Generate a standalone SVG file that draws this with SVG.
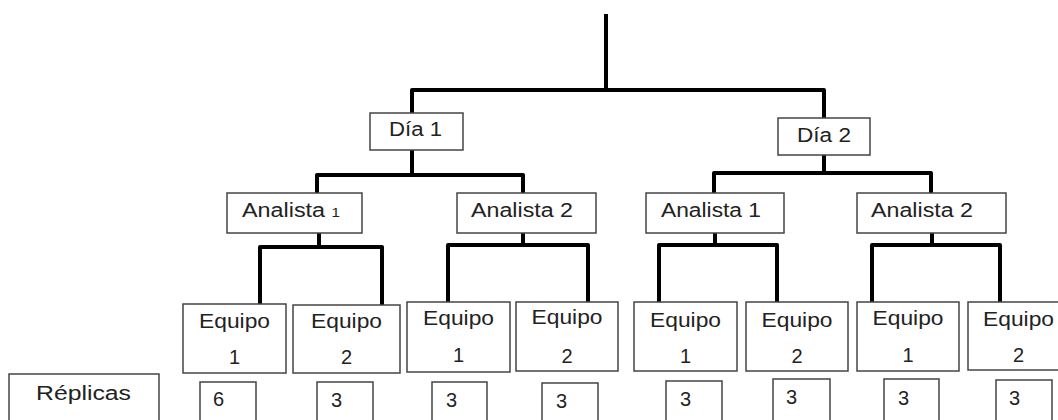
<svg xmlns="http://www.w3.org/2000/svg" width="1058" height="420" viewBox="0 0 1058 420">
  <style>
    .box { fill: #ffffff; stroke: #444444; stroke-width: 1.5; }
    .lbl { font-family: "Liberation Sans", Arial, sans-serif; font-size: 20px; fill: #222222; }
    .mid { text-anchor: middle; }
    .wire { fill: none; stroke: #000000; stroke-width: 4; stroke-linejoin: round; stroke-linecap: butt; }
  </style>
  <rect width="1058" height="420" fill="#ffffff"/>

  <!-- tree connectors -->
  <g id="connectors" class="wire">
    <path d="M606,14 V90"/>
    <path d="M412,113 V90 H824 V118"/>
    <path d="M412,150 V175"/>
    <path d="M317,193 V175 H523 V193"/>
    <path d="M824,155 V173"/>
    <path d="M714,193 V173 H931 V193"/>
    <path d="M319,233 V247"/>
    <path d="M260,305 V247 H382 V305"/>
    <path d="M523,233 V245"/>
    <path d="M448,302 V245 H588 V302"/>
    <path d="M715,233 V245"/>
    <path d="M659,302 V245 H777 V302"/>
    <path d="M932,233 V245"/>
    <path d="M872,302 V245 H1000 V302"/>
  </g>

  <!-- days -->
  <g id="dia1">
    <rect class="box" x="370" y="113" width="93" height="37"/>
    <text class="lbl" x="389" y="136" textLength="53" lengthAdjust="spacingAndGlyphs">Día 1</text>
  </g>
  <g id="dia2">
    <rect class="box" x="778" y="118" width="92" height="37"/>
    <text class="lbl" x="797" y="142" textLength="54" lengthAdjust="spacingAndGlyphs">Día 2</text>
  </g>

  <!-- analysts -->
  <g id="d1-analista1">
    <rect class="box" x="227" y="193" width="135" height="40"/>
    <text class="lbl" x="242" y="217" textLength="98" lengthAdjust="spacingAndGlyphs">Analista <tspan font-size="13">1</tspan></text>
  </g>
  <g id="d1-analista2">
    <rect class="box" x="457" y="193" width="139" height="40"/>
    <text class="lbl" x="471" y="217" textLength="102" lengthAdjust="spacingAndGlyphs">Analista 2</text>
  </g>
  <g id="d2-analista1">
    <rect class="box" x="646" y="193" width="138" height="40"/>
    <text class="lbl" x="661" y="217" textLength="100" lengthAdjust="spacingAndGlyphs">Analista 1</text>
  </g>
  <g id="d2-analista2">
    <rect class="box" x="857" y="193" width="149" height="40"/>
    <text class="lbl" x="871" y="217" textLength="102" lengthAdjust="spacingAndGlyphs">Analista 2</text>
  </g>

  <!-- equipment -->
  <g id="equipo-1">
    <rect class="box" x="183" y="304" width="103" height="69"/>
    <text class="lbl mid" x="234.5" y="328" textLength="71" lengthAdjust="spacingAndGlyphs">Equipo</text>
    <text class="lbl mid" x="234.5" y="364">1</text>
  </g>
  <g id="equipo-2">
    <rect class="box" x="293" y="305" width="107" height="68"/>
    <text class="lbl mid" x="346.5" y="328" textLength="71" lengthAdjust="spacingAndGlyphs">Equipo</text>
    <text class="lbl mid" x="346.5" y="364">2</text>
  </g>
  <g id="equipo-3">
    <rect class="box" x="407" y="302" width="103" height="70"/>
    <text class="lbl mid" x="458.5" y="325" textLength="71" lengthAdjust="spacingAndGlyphs">Equipo</text>
    <text class="lbl mid" x="458.5" y="362">1</text>
  </g>
  <g id="equipo-4">
    <rect class="box" x="516" y="302" width="102" height="69"/>
    <text class="lbl mid" x="567" y="324" textLength="71" lengthAdjust="spacingAndGlyphs">Equipo</text>
    <text class="lbl mid" x="567" y="363">2</text>
  </g>
  <g id="equipo-5">
    <rect class="box" x="634" y="302" width="103" height="69"/>
    <text class="lbl mid" x="685.5" y="327" textLength="71" lengthAdjust="spacingAndGlyphs">Equipo</text>
    <text class="lbl mid" x="685.5" y="363">1</text>
  </g>
  <g id="equipo-6">
    <rect class="box" x="746" y="302" width="102" height="69"/>
    <text class="lbl mid" x="797" y="327" textLength="71" lengthAdjust="spacingAndGlyphs">Equipo</text>
    <text class="lbl mid" x="797" y="363">2</text>
  </g>
  <g id="equipo-7">
    <rect class="box" x="857" y="302" width="102" height="69"/>
    <text class="lbl mid" x="908" y="325" textLength="71" lengthAdjust="spacingAndGlyphs">Equipo</text>
    <text class="lbl mid" x="908" y="362">1</text>
  </g>
  <g id="equipo-8">
    <rect class="box" x="968" y="302" width="102" height="68"/>
    <text class="lbl mid" x="1018.5" y="326" textLength="71" lengthAdjust="spacingAndGlyphs">Equipo</text>
    <text class="lbl mid" x="1018.5" y="362">2</text>
  </g>

  <!-- replicate counts -->
  <g id="replicas">
    <rect class="box" x="9" y="374" width="150" height="60"/>
    <text class="lbl" x="36" y="400" textLength="95" lengthAdjust="spacingAndGlyphs">Réplicas</text>
  </g>
  <g id="rep-1"><rect class="box" x="200" y="382" width="56" height="50"/><text class="lbl" x="213" y="406" font-size="18">6</text></g>
  <g id="rep-2"><rect class="box" x="317" y="382" width="56" height="50"/><text class="lbl" x="331" y="407" font-size="18">3</text></g>
  <g id="rep-3"><rect class="box" x="432" y="382" width="55" height="50"/><text class="lbl" x="446" y="407" font-size="18">3</text></g>
  <g id="rep-4"><rect class="box" x="542" y="383" width="56" height="50"/><text class="lbl" x="556" y="408" font-size="18">3</text></g>
  <g id="rep-5"><rect class="box" x="666" y="381" width="56" height="50"/><text class="lbl" x="680" y="406" font-size="18">3</text></g>
  <g id="rep-6"><rect class="box" x="773" y="379" width="57" height="50"/><text class="lbl" x="786" y="404" font-size="18">3</text></g>
  <g id="rep-7"><rect class="box" x="884" y="379" width="55" height="50"/><text class="lbl" x="898" y="405" font-size="18">3</text></g>
  <g id="rep-8"><rect class="box" x="996" y="380" width="56" height="50"/><text class="lbl" x="1009" y="405" font-size="18">3</text></g>
</svg>
